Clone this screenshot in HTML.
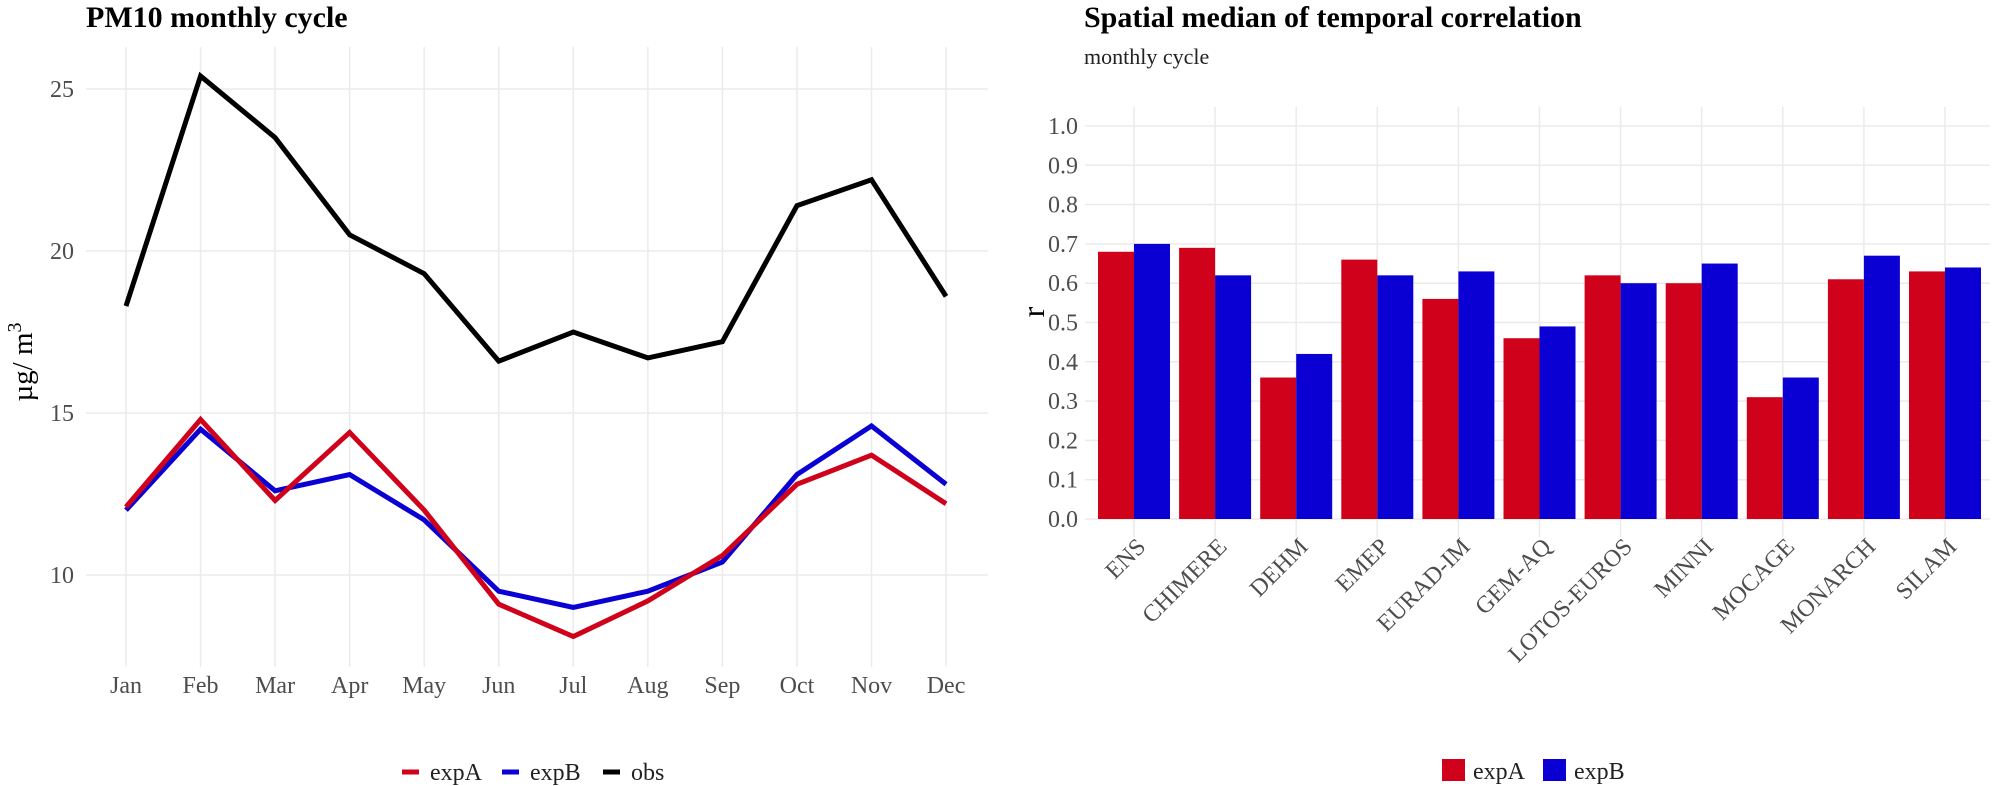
<!DOCTYPE html>
<html><head><meta charset="utf-8"><style>
body{margin:0;background:#fff}
svg{display:block;font-family:"Liberation Serif",serif}
</style></head><body>
<svg id="c" width="1993" height="786" viewBox="0 0 1993 786" xmlns="http://www.w3.org/2000/svg">
<text x="86" y="27" font-size="30" font-weight="bold" fill="#000">PM10 monthly cycle</text>
<text x="1084" y="27" font-size="30" font-weight="bold" fill="#000">Spatial median of temporal correlation</text>
<text x="1084" y="64" font-size="22" fill="#222">monthly cycle</text>
<text transform="translate(32,362) rotate(-90)" text-anchor="middle" font-size="29" fill="#000">µg/ m<tspan dy="-11" font-size="20">3</tspan></text>
<text transform="translate(1044,312) rotate(-90)" text-anchor="middle" font-size="32" fill="#000">r</text>
<g id="L"></g><g id="R"></g>
<g>
<line x1="402" y1="772" x2="419" y2="772" stroke="#d0021b" stroke-width="5"/>
<text x="430" y="780" font-size="24" fill="#222">expA</text>
<line x1="502" y1="772" x2="519" y2="772" stroke="#0a00d4" stroke-width="5"/>
<text x="530" y="780" font-size="24" fill="#222">expB</text>
<line x1="603" y1="772" x2="620" y2="772" stroke="#000" stroke-width="5"/>
<text x="631" y="780" font-size="24" fill="#222">obs</text>
</g>
<g>
<rect x="1442" y="759" width="23" height="22" fill="#d0021b"/>
<text x="1473" y="779" font-size="24" fill="#222">expA</text>
<rect x="1543" y="759" width="23" height="22" fill="#0a00d4"/>
<text x="1574" y="779" font-size="24" fill="#222">expB</text>
</g>
</svg>
<script>
const months=["Jan","Feb","Mar","Apr","May","Jun","Jul","Aug","Sep","Oct","Nov","Dec"];
const obsVals=[18.3,25.4,23.5,20.5,19.3,16.6,17.5,16.7,17.2,21.4,22.2,18.6];
const expAVals=[12.1,14.8,12.3,14.4,12.0,9.1,8.1,9.2,10.6,12.8,13.7,12.2];
const expBVals=[12.0,14.5,12.6,13.1,11.7,9.5,9.0,9.5,10.4,13.1,14.6,12.8];
const leftTicks=[10,15,20,25];
const models=["ENS","CHIMERE","DEHM","EMEP","EURAD-IM","GEM-AQ","LOTOS-EUROS","MINNI","MOCAGE","MONARCH","SILAM"];
const barA=[0.68,0.69,0.36,0.66,0.56,0.46,0.62,0.60,0.31,0.61,0.63];
const barB=[0.70,0.62,0.42,0.62,0.63,0.49,0.60,0.65,0.36,0.67,0.64];
const rightTicks=[0,0.1,0.2,0.3,0.4,0.5,0.6,0.7,0.8,0.9,1.0];
const NS="http://www.w3.org/2000/svg";
function mk(p,t,a){const e=document.createElementNS(NS,t);for(const k in a)e.setAttribute(k,a[k]);p.appendChild(e);return e;}
const L=document.getElementById('L'),R=document.getElementById('R');
const lx=i=>126+i*74.55, ly=v=>251-(v-20)*32.4;
months.forEach((m,i)=>{
 const g=mk(L,'line',{x1:lx(i),x2:lx(i),y1:47,y2:667,stroke:'#ebebeb','stroke-width':1.5});
 
 
 const t=mk(L,'text',{x:lx(i),y:693,'text-anchor':'middle','font-size':24,fill:'#4d4d4d'});t.textContent=m;
 
 
});
leftTicks.forEach(v=>{
 const g=mk(L,'line',{x1:86,x2:988,y1:ly(v),y2:ly(v),stroke:'#ebebeb','stroke-width':1.5});
 
 
 const t=mk(L,'text',{x:74,y:ly(v)+8,'text-anchor':'end','font-size':24,fill:'#4d4d4d'});t.textContent=v;
 
 
});
[[obsVals,'#000','obs-line'],[expBVals,'#0a00d4','expB-line'],[expAVals,'#d0021b','expA-line']].forEach(([d,c,n])=>{
 const p=mk(L,'polyline',{points:d.map((v,i)=>lx(i)+','+ly(v)).join(' '),fill:'none',stroke:c,'stroke-width':5,'stroke-linejoin':'miter'});
 
 
});
const rx=i=>1134+i*81.1, ry=v=>519-v*393, bw=36;
models.forEach((m,i)=>{
 const g=mk(R,'line',{x1:rx(i),x2:rx(i),y1:107,y2:537,stroke:'#ebebeb','stroke-width':1.5});
 
 
});
rightTicks.forEach(v=>{
 const g=mk(R,'line',{x1:1085,x2:1990,y1:ry(v),y2:ry(v),stroke:'#ebebeb','stroke-width':1.5});
 
 
 const t=mk(R,'text',{x:1078,y:ry(v)+8,'text-anchor':'end','font-size':24,fill:'#4d4d4d'});t.textContent=v.toFixed(1);
 
 
});
models.forEach((m,i)=>{
 const a=mk(R,'rect',{x:rx(i)-bw,y:ry(barA[i]),width:bw,height:ry(0)-ry(barA[i]),fill:'#d0021b'});
 
 
 const b=mk(R,'rect',{x:rx(i),y:ry(barB[i]),width:bw,height:ry(0)-ry(barB[i]),fill:'#0a00d4'});
 
 
 const t=mk(R,'text',{transform:`translate(${rx(i)+13},${548}) rotate(-45)`,'text-anchor':'end','font-size':24,fill:'#4d4d4d'});t.textContent=m;
 
 
});
</script>
</body></html>
